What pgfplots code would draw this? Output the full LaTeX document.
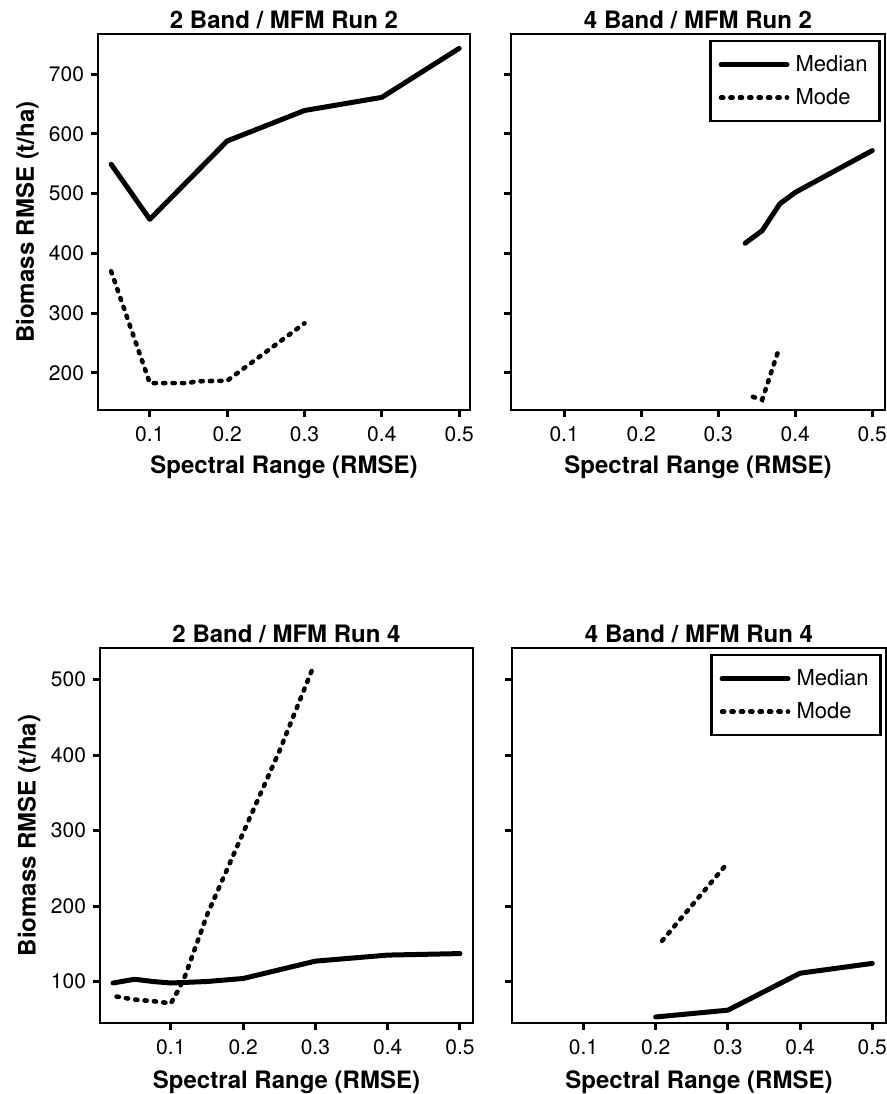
\documentclass[border=0pt]{standalone}
\usepackage{pgfplots}
\pgfplotsset{compat=1.18}
\usepackage{fontspec}
\setmainfont{TeX Gyre Heros}

\pgfplotsset{
  panel/.style={
    scale only axis, anchor=south west,
    axis line style={line width=0.6pt},
    tick align=outside, major tick length=3.5pt,
    xtick pos=bottom, ytick pos=left,
    every tick/.style={line width=1.5pt, black},
    xtick={0.1,0.2,0.3,0.4,0.5},
    xticklabels={0.1,0.2,0.3,0.4,0.5},
    ticklabel style={font=\fontsize{10.5}{12}\selectfont},
    xticklabel style={yshift=-1.2pt},
    /pgf/number format/assume math mode=true,
    every axis title shift=0pt,
    title style={font=\bfseries\fontsize{12}{14}\selectfont, at={(axis description cs:0.5,1)}, anchor=base, yshift=2.7pt},
    xlabel style={font=\bfseries\fontsize{12}{14}\selectfont, anchor=center},
    ylabel style={font=\bfseries\fontsize{12}{14}\selectfont, at={(axis description cs:-0.19,0.5)}, anchor=center},
    xlabel={Spectral Range (RMSE)},
    legend cell align=left,
    legend image code/.code={\draw[##1] (0pt,0pt) -- (33pt,0pt);},
    legend style={at={(axis description cs:0.989,0.984)}, anchor=north east,
      draw=black, line width=1.2pt, font=\fontsize{11}{13}\selectfont,
      inner xsep=4pt, inner ysep=5pt, row sep=3pt,
      /tikz/every odd column/.append style={column sep=1pt}},
  },
  med/.style={black, line width=2.5pt, line join=round, line cap=round},
  mod/.style={black, line width=2.3pt, line cap=round, dash pattern=on 1.1pt off 3.6pt},
}

\begin{document}
\begin{tikzpicture}
\path[use as bounding box] (0,0) rectangle (443.5pt,547pt);

% ---------- 2 Band / MFM Run 2
\begin{axis}[panel, at={(49pt,342pt)}, width=186pt, height=188pt,
  xmin=0.033, xmax=0.514, ymin=138, ymax=767,
  ytick={200,300,400,500,600,700},
  title={2 Band / MFM Run 2},
  ylabel={Biomass RMSE (t/ha)},
  xlabel style={at={(axis description cs:0.5,-0.152)}}]
\addplot[med] coordinates {(0.05,549) (0.1,457) (0.2,588) (0.3,639) (0.4,661) (0.5,743)};
\addplot[mod] coordinates {(0.05,370) (0.1,183) (0.15,183) (0.16,186) (0.2,187) (0.3,283)};
\end{axis}

% ---------- 4 Band / MFM Run 2
\begin{axis}[panel, at={(255.5pt,342pt)}, width=187pt, height=188pt,
  xmin=0.031, xmax=0.5165, ymin=138, ymax=767,
  ytick={200,300,400,500,600,700}, yticklabels={},
  title={4 Band / MFM Run 2},
  xlabel style={at={(axis description cs:0.5,-0.152)}}]
\addplot[med] coordinates {(0.335,417) (0.357,438) (0.38,483) (0.4,502) (0.5,572)};
\addlegendentry{Median}
\addplot[mod] coordinates {(0.345,160) (0.357,155) (0.378,237)};
\addlegendentry{Mode}
\end{axis}

% ---------- 2 Band / MFM Run 4
\begin{axis}[panel, at={(50pt,35.5pt)}, width=186.5pt, height=187.5pt,
  xmin=0.002, xmax=0.518, ymin=45, ymax=542,
  ytick={100,200,300,400,500},
  title={2 Band / MFM Run 4},
  ylabel={Biomass RMSE (t/ha)},
  xlabel style={at={(axis description cs:0.5,-0.158)}}]
\addplot[med] coordinates {(0.02,98) (0.05,103) (0.075,100) (0.1,98) (0.15,100) (0.2,104) (0.3,127) (0.4,135) (0.5,137)};
\addplot[mod] coordinates {(0.025,80) (0.05,76) (0.075,74) (0.1,71) (0.11,88) (0.12,108) (0.15,188) (0.2,297) (0.25,405) (0.295,512)};
\end{axis}

% ---------- 4 Band / MFM Run 4
\begin{axis}[panel, at={(256pt,35.5pt)}, width=187pt, height=187.5pt,
  xmin=0.001, xmax=0.519, ymin=45, ymax=542,
  ytick={100,200,300,400,500}, yticklabels={},
  title={4 Band / MFM Run 4},
  xlabel style={at={(axis description cs:0.5,-0.158)}}]
\addplot[med] coordinates {(0.2,53) (0.3,62) (0.4,111) (0.5,124)};
\addlegendentry{Median}
\addplot[mod] coordinates {(0.209,154) (0.296,253)};
\addlegendentry{Mode}
\end{axis}
\end{tikzpicture}
\end{document}
